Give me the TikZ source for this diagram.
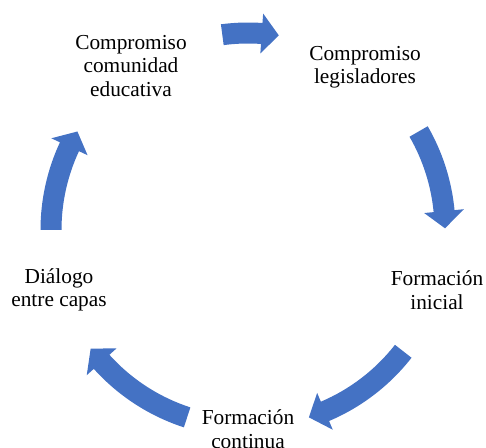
\documentclass[tikz,border=0pt]{standalone}
\usepackage{fontspec}
\setmainfont{Liberation Serif}
\definecolor{arrowblue}{RGB}{68,114,196}
\tikzset{
  lbl/.style={align=center, inner sep=0pt, font=\fontsize{16}{17.6}\selectfont, text=black},
  cyc/.style={fill=arrowblue, draw=none}
}
% #1 start angle, #2 tip angle (clockwise, #2 < #1)
\newcommand\cycarrow[2]{%
  \fill[cyc] (#1:207.5) arc[start angle=#1, end angle=#2+5, radius=207.5]
    -- (#2+5:217) -- (#2:197) -- (#2+5:177) -- (#2+5:186.5)
    arc[start angle=#2+5, end angle=#1, radius=186.5] -- cycle;}
\begin{document}
\begin{tikzpicture}[x=0.75pt, y=0.75pt]
\useasboundingbox (0,0) rectangle (486,447);
\node[lbl] (cce) at (131,381) {Compromiso\\comunidad\\educativa};
\node[lbl] (cl) at (365,380) {Compromiso\\legisladores};
\node[lbl] (fi) at (437,157) {Formación\\inicial};
\node[lbl] (fc) at (248,18) {Formación\\continua};
\node[lbl] (dc) at (59,157) {Diálogo\\entre capas};
\begin{scope}[shift={(248,217)}]
  \cycarrow{97.5}{81}
  \cycarrow{30}{0.5}
  \cycarrow{-38}{-72}
  \cycarrow{-108}{-143}
  \cycarrow{180}{150}
\end{scope}
\end{tikzpicture}
\end{document}
